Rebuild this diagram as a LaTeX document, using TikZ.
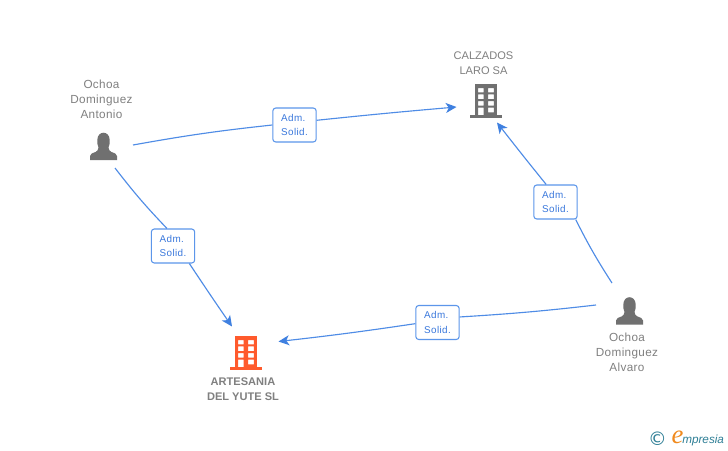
\documentclass[tikz,border=0pt]{standalone}
\usepackage{fontspec}
\setmainfont{Liberation Sans}
\newfontfamily\lblfont[LetterSpace=4]{Liberation Sans}
\newfontfamily\namefont[LetterSpace=3]{Liberation Sans}
\newfontfamily\logofont{Liberation Serif}
\newfontfamily\copyfont{DejaVu Sans}
\usetikzlibrary{arrows.meta}
\definecolor{linkblue}{HTML}{4F8CE6}
\definecolor{headblue}{HTML}{3F80E0}
\definecolor{textblue}{HTML}{3A78DC}
\definecolor{boxblue}{HTML}{5C96EA}
\definecolor{icongrey}{HTML}{707070}
\definecolor{namegrey}{HTML}{808080}
\definecolor{orangeicon}{HTML}{FF5A2C}
\definecolor{logoteal}{HTML}{2F7F96}
\definecolor{logoorange}{HTML}{F08A1E}
\tikzset{
  x=0.75pt,y=-0.75pt,
  conn/.style={draw=linkblue,line width=0.85pt},
  arrowed/.style={conn,-{Stealth[length=8pt,width=7.5pt,inset=2.2pt,color=headblue]}},
  relbox/.style={draw=boxblue,line width=0.8pt,rounded corners=2.2pt,fill=white,
    minimum width=32.5pt,minimum height=25.5pt,inner sep=0pt,align=left,
    text=textblue,font=\lblfont\fontsize{7.4pt}{11.2pt}\selectfont},
  namelbl/.style={align=center,inner sep=0pt,text=namegrey,
    font=\namefont\fontsize{8.8pt}{11.25pt}\selectfont},
  complbl/.style={align=center,inner sep=0pt,text=namegrey,
    font=\fontsize{8.3pt}{11.25pt}\selectfont},
  mainlbl/.style={align=center,inner sep=0pt,text=namegrey,
    font=\bfseries\fontsize{8.3pt}{11.25pt}\selectfont},
  anchorbox/.style={inner sep=0pt,minimum width=1pt,minimum height=1pt},
  pics/person/.style={code={
    \fill[icongrey] (-13.5,10) -- (-13.5,6) .. controls (-13.5,3.5) and (-10.5,3) .. (-8,2)
      .. controls (-6,1.2) and (-5.5,0) .. (-5,-2.5)
      .. controls (-6.2,-5) and (-6.4,-7.5) .. (-6.2,-10)
      .. controls (-6,-15) and (-3,-17.3) .. (0,-17.3)
      .. controls (3,-17.3) and (6,-15) .. (6.2,-10)
      .. controls (6.4,-7.5) and (6.2,-5) .. (5,-2.5)
      .. controls (5.5,0) and (6,1.2) .. (8,2)
      .. controls (10.5,3) and (13.5,3.5) .. (13.5,6) -- (13.5,10) -- cycle;
  }},
  pics/building/.style={code={
    % origin at the middle of the base line
    \fill[#1,even odd rule]
      (-10.8,-32) rectangle (10.8,0)
      (-8,-28) rectangle (-2.4,-23.7)
      (2,-28) rectangle (7.8,-23.7)
      (-8,-21.7) rectangle (-2.4,-17)
      (2,-21.7) rectangle (7.8,-17)
      (-8,-15) rectangle (-2.4,-10.3)
      (2,-15) rectangle (7.8,-10.3)
      (-8,-8.3) rectangle (-2.4,0)
      (2,-8.3) rectangle (7.8,-3.7);
    \fill[#1] (-16,-0.7) rectangle (16,1.8);
  }},
}
\begin{document}
\begin{tikzpicture}
\useasboundingbox (0,0) rectangle (728,450);
\fill[white] (0,0) rectangle (728,450);

% icons
\node[anchorbox] (antonio) at (103.5,150) {};
\pic at (antonio) {person};
\node[anchorbox] (alvaro) at (629.5,314.5) {};
\pic at (alvaro) {person};
\node[anchorbox] (calzados) at (486,116) {};
\pic at (calzados) {building=icongrey};
\node[anchorbox] (yute) at (246,368) {};
\pic at (yute) {building=orangeicon};

% names
\node[namelbl] (nameantonio) at (101.5,99) {Ochoa\\Dominguez\\Antonio};
\node[namelbl] (namealvaro) at (627,352.5) {Ochoa\\Dominguez\\Alvaro};
\node[complbl] (namecalzados) at (483.5,63) {CALZADOS\\LARO SA};
\node[mainlbl] (nameyute) at (243,389) {ARTESANIA\\DEL YUTE SL};

% connector ends
\coordinate (a1) at (133,145);
\coordinate (a2) at (456.5,107);
\coordinate (b1) at (115,168);
\coordinate (b2) at (232,326.5);
\coordinate (c1) at (612,283);
\coordinate (c2) at (497,122.5);
\coordinate (d1) at (596,305);
\coordinate (d2) at (278.5,341.5);

% relation boxes
\node[relbox] (rel1) at (294.5,125) {Adm.\\Solid.};
\node[relbox] (rel2) at (173,246) {Adm.\\Solid.};
\node[relbox] (rel3) at (555.5,202) {Adm.\\Solid.};
\node[relbox] (rel4) at (437.5,322.5) {Adm.\\Solid.};

% connectors
\draw[conn] (a1) to[bend left=2] (rel1.180);
\draw[arrowed] (rel1.12) to[bend left=0.5] (a2);
\draw[conn] (b1) to[bend right=3] (rel2.109);
\draw[arrowed] (rel2.313) to[bend right=0.5] (b2);
\draw[conn] (c1) to[bend left=3] (rel3.319);
\draw[arrowed] (rel3.118) to[bend left=0.5] (c2);
\draw[conn] (d1) to[bend left=1.5] (rel4.14);
\draw[arrowed] (rel4.183) to[bend left=1] (d2);

% logo
\node[inner sep=0pt,text=logoteal,font=\copyfont\fontsize{14pt}{14pt}\selectfont] (copyr) at (657.5,438.5) {©};
\node[inner sep=0pt,text=logoorange,font=\logofont\itshape\fontsize{20pt}{20pt}\selectfont] (logoe) at (677.5,437) {e};
\node[inner sep=0pt,anchor=west,text=logoteal,font=\itshape\fontsize{8.8pt}{10pt}\selectfont] (logotxt) at (682,440) {mpresia};
\end{tikzpicture}
\end{document}
